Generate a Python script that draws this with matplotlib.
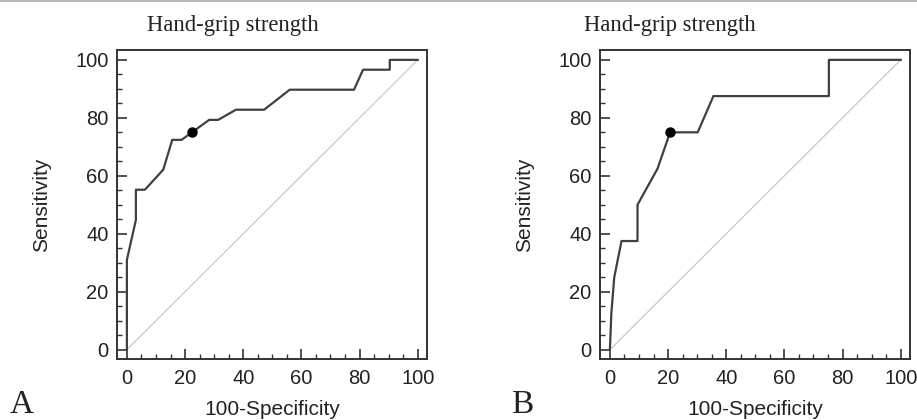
import matplotlib
matplotlib.use('Agg')
import matplotlib.pyplot as plt
from matplotlib.lines import Line2D
from matplotlib.ticker import MultipleLocator

plt.rcParams['font.family'] = ['Liberation Sans', 'DejaVu Sans']

# ROC curve A (100-Specificity, Sensitivity)
fpr_a = [0, 0, 3.1, 3.1, 6.2, 12.5, 15.6, 18.8, 28.3, 31.4, 37.5, 47.2, 56.0, 78.1, 81.2, 90.4, 90.4, 100]
tpr_a = [0, 31.0, 44.8, 55.2, 55.2, 62.1, 72.4, 72.4, 79.3, 79.3, 82.8, 82.8, 89.7, 89.7, 96.6, 96.6, 100, 100]
cut_a = (22.5, 75.0)

# ROC curve B
fpr_b = [0, 0.5, 1.5, 4.0, 9.5, 9.5, 16.4, 20.7, 30.2, 35.6, 75.3, 75.3, 100]
tpr_b = [0, 12.5, 25.0, 37.5, 37.5, 50.0, 62.5, 75.0, 75.0, 87.5, 87.5, 100, 100]
cut_b = (20.7, 75.0)

panels = [
    ('A', fpr_a, tpr_a, cut_a, 117, 233),
    ('B', fpr_b, tpr_b, cut_b, 600, 670),
]

W, H = 917, 420
fig = plt.figure(figsize=(W / 100, H / 100), dpi=100)

# thin grey line along the top edge
fig.add_artist(Line2D([0, 1], [0.998, 0.998], color='#aaaaaa', lw=1.2, transform=fig.transFigure))

for letter, fx, fy, cut, left_px, title_px in panels:
    ax = fig.add_axes([left_px / W, 1 - 359 / H, 310 / W, 309 / H])
    ax.plot([0, 100], [0, 100], color='#c8c8c8', lw=0.9)
    ax.plot(fx, fy, color='#404040', lw=1.6)
    ax.plot(*cut, 'o', color='black', ms=6.5, zorder=5)

    ax.set_xlim(-3.4, 103.2)
    ax.set_ylim(-3.2, 103.4)
    for sp in ax.spines.values():
        sp.set_color('#333333')
        sp.set_linewidth(1.4)

    for axis in (ax.xaxis, ax.yaxis):
        axis.set_major_locator(MultipleLocator(20))
        axis.set_minor_locator(MultipleLocator(5))
    ax.tick_params(which='major', direction='in', length=7, width=1.2,
                   color='#333333', labelsize=14.5, labelcolor='#222222')
    ax.tick_params(which='minor', direction='in', length=3.5, width=1.0, color='#333333')
    ax.tick_params(axis='x', which='major', pad=7)
    ax.tick_params(axis='y', which='major', pad=6)

    ax.set_xlabel('100-Specificity', fontsize=15, color='#222222', va='center')
    ax.xaxis.set_label_coords(0.5, -0.165)
    ax.set_ylabel('Sensitivity', fontsize=15, color='#222222', va='center')
    ax.yaxis.set_label_coords(-0.245, 0.5)

    fig.text(title_px / W, 1 - 25 / H, 'Hand-grip strength', family='Liberation Serif',
             fontsize=16.3, ha='center', va='center', color='#222222')
    letter_px = 22 if letter == 'A' else 522
    fig.text(letter_px / W, 1 - 405 / H, letter, family='Liberation Serif',
             fontsize=24, ha='center', va='center', color='#222222')

fig.savefig('out.png', dpi=100)
